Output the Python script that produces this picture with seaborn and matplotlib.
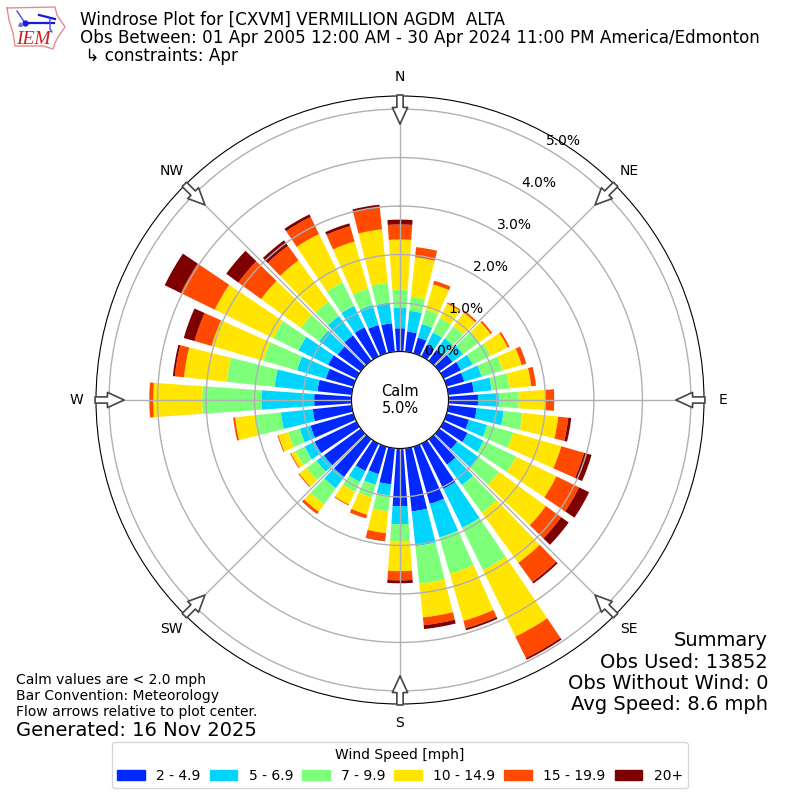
import numpy as np
import seaborn as sns
import matplotlib
matplotlib.use("Agg")
import matplotlib.pyplot as plt
from matplotlib.patches import Patch

# percent of obs per direction, one list per speed bin, N then clockwise
directions = list(range(0, 360, 10))
speed_2_5 = [.48, .42, .34, .26, .28, .34, .40, .38, .53, .61, .59, .48,
             .55, .46, .65, 1.04, 1.23, 1.31, 1.19, .75, .59, .63, .96, .94,
             .96, .92, .81, .77, .71, .59, .65, .59, .65, .67, .61, .59]
speed_5_7 = [.43, .43, .29, .29, .29, .27, .27, .37, .37, .43, .56, .39,
             .37, .54, .52, .89, .72, .72, .37, .23, .23, .25, .29, .19,
             .23, .23, .66, 1.09, .89, .62, .68, .47, .49, .49, .43, .43]
speed_7_10 = [.37, .29, .31, .33, .31, .41, .41, .45, .37, .41, .39, .56,
              .74, .52, .70, .97, .78, .78, .35, .33, .27, .23, .41, .25,
              .21, .25, .54, 1.22, .99, .72, .58, .47, .37, .54, .35, .41]
speed_10_15 = [1.03, .82, .54, .33, .35, .29, .39, .41, .45, .56, .74, 1.03,
               .93, 1.20, 1.28, 1.53, 1.01, .70, .62, .45, .37, .29, .19, .19,
               .10, .21, .41, 1.01, .89, 1.11, 1.34, 1.01, 1.05, 1.11, 1.01, 1.11]
speed_15_20 = [.31, .21, .08, .03, .04, .04, .04, .10, .10, .16, .21, .49,
               .52, .39, .49, .49, .16, .16, .19, .16, .08, .02, .06, .02,
               .02, .02, .04, .08, .19, .37, .78, .58, .37, .39, .33, .45]
speed_20 = [.10, 0, 0, 0, 0, 0, 0, 0, 0, .01, .06, .16,
            .23, .19, .04, .04, .04, .08, .06, .01, 0, 0, 0, 0,
            0, 0, 0, 0, .04, .23, .37, .31, .14, .06, .06, .06]

bins = [speed_2_5, speed_5_7, speed_7_10, speed_10_15, speed_15_20, speed_20]
bin_labels = ["2 - 4.9", "5 - 6.9", "7 - 9.9", "10 - 14.9", "15 - 19.9", "20+"]
bin_colors = ["#0028ff", "#00d5ff", "#7dff7a", "#ffe500", "#ff4a00", "#7f0000"]

compass = ["N", "NE", "E", "SE", "S", "SW", "W", "NW"]
compass_deg = [0, 45, 90, 135, 180, 225, 270, 315]
ring_ticks = [0, 1, 2, 3, 4, 5]

fig = plt.figure(figsize=(8, 8), dpi=100)
ax = fig.add_axes([0.12, 0.12, 0.76, 0.76], projection="polar")
ax.set_theta_zero_location("N")
ax.set_theta_direction(-1)

theta = np.deg2rad(directions)
bottom = np.zeros(len(directions))
for values, color in zip(bins, bin_colors):
    sns.barplot(x=theta, y=values, ax=ax, native_scale=True, width=0.8,
                color=color, saturation=1, errorbar=None, linewidth=0,
                bottom=bottom)
    bottom = bottom + np.array(values)

ax.set_xlabel("")
ax.set_ylabel("")
ax.set_xlim(0, 2 * np.pi)
ax.set_rorigin(-1)
ax.set_ylim(0, 5.27)
ax.set_yticks(ring_ticks)
ax.set_yticklabels([f"{v:.1f}%" for v in ring_ticks], fontsize=10)
ax.set_rlabel_position(30)
ax.set_xticks(np.deg2rad(compass_deg))
ax.set_xticklabels(compass, fontsize=10)
ax.grid(True, color="#b0b0b0", lw=1)

# flow arrows on the compass points
for deg in compass_deg:
    ax.annotate("", xy=(np.deg2rad(deg), 4.69), xytext=(np.deg2rad(deg), 5.29),
                annotation_clip=False,
                arrowprops=dict(facecolor="white", edgecolor="#444444", lw=1.2,
                                width=4.5, headwidth=11, headlength=12,
                                shrink=0))

ax.text(0.5, 0.5, "Calm\n5.0%", transform=ax.transAxes, ha="center",
        va="center", fontsize=10.5)

fig.text(0.1, 0.9525,
         "Windrose Plot for [CXVM] VERMILLION AGDM  ALTA\n"
         "Obs Between: 01 Apr 2005 12:00 AM - 30 Apr 2024 11:00 PM America/Edmonton\n"
         " \u21b3 constraints: Apr",
         fontsize=12.05, va="center", ha="left", linespacing=1.02)
fig.text(0.02, 0.13,
         "Calm values are < 2.0 mph\nBar Convention: Meteorology\n"
         "Flow arrows relative to plot center.",
         fontsize=10, va="center", ha="left", linespacing=1.15)
fig.text(0.02, 0.0875, "Generated: 16 Nov 2025", fontsize=14, va="center", ha="left")
fig.text(0.96, 0.159, "Summary\nObs Used: 13852\nObs Without Wind: 0\nAvg Speed: 8.6 mph",
         fontsize=14, va="center", ha="right", multialignment="right", linespacing=1.15)

handles = [Patch(color=c) for c in bin_colors]
fig.legend(handles, bin_labels, title="Wind Speed [mph]", ncols=6,
           loc="lower center", bbox_to_anchor=(0.5, 0.0058), fontsize=10,
           columnspacing=0.65)

# IEM logo, drawn roughly in pixel coords
logo = fig.add_axes([0, 1 - 55 / 800, 75 / 800, 55 / 800])
logo.set_xlim(0, 75)
logo.set_ylim(55, 0)
logo.axis("off")
outline_x = [7, 55, 57, 65, 58, 55, 53, 43, 15, 13, 9, 7]
outline_y = [8, 7, 15, 27, 37, 43, 49, 46, 46, 33, 20, 8]
logo.plot(outline_x, outline_y, color="#e88a8a", lw=1)
logo.plot([25, 54], [23, 23], color="#1a1ad8", lw=1.6)
logo.plot([17, 25], [11, 23], color="#4a4ae0", lw=1)
logo.plot([39, 55], [15, 19], color="#1a1ad8", lw=1.6)
logo.plot([50, 50, 52], [19, 29, 32], color="#4a4ae0", lw=1)
logo.plot([25], [23], "o", color="#1a1ad8", ms=3.5)
logo.plot([20], [24], "^", color="#6a6ae0", ms=2.5)
logo.text(16.5, 44, "IEM", color="#cc2020", fontsize=14, style="italic",
          family="Liberation Serif", va="baseline")

fig.savefig("out.png", dpi=100)
